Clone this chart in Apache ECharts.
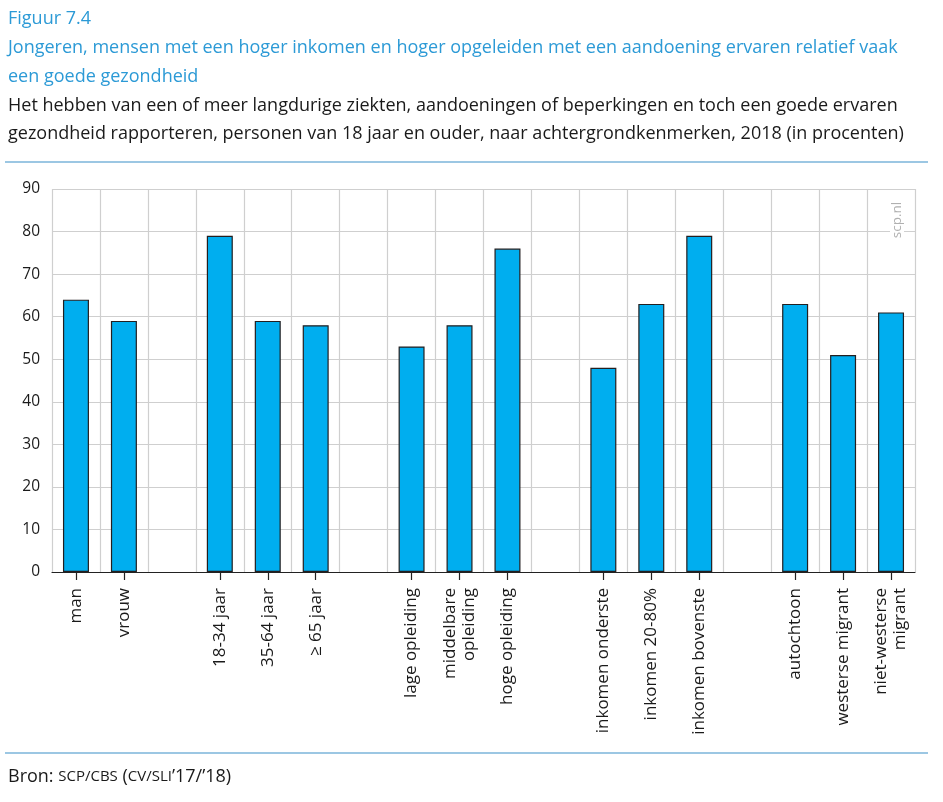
<!DOCTYPE html>
<html>
<head>
<meta charset="utf-8">
<script src="https://cdn.jsdelivr.net/npm/echarts@6/dist/echarts.min.js"></script>
<style>
  html, body { margin: 0; padding: 0; background: #fff; }
  #chart { width: 943px; height: 802px; }
</style>
</head>
<body>
<div id="chart"></div>
<script>
// Categories (blank strings are gaps between groups)
const categories = [
  'man', 'vrouw', '',
  '18-34 jaar', '35-64 jaar', '≥ 65 jaar', ' ',
  'lage opleiding', 'middelbare\nopleiding', 'hoge opleiding', '  ',
  'inkomen onderste', 'inkomen 20-80%', 'inkomen bovenste', '   ',
  'autochtoon', 'westerse migrant', 'niet-westerse\nmigrant'
];
const values = [
  64, 59, null,
  79, 59, 58, null,
  53, 58, 76, null,
  48, 63, 79, null,
  63, 51, 61
];
const yTicks = { min: 0, max: 90, interval: 10 };

const titleLines = [
  'Jongeren, mensen met een hoger inkomen en hoger opgeleiden met een aandoening ervaren relatief vaak',
  'een goede gezondheid'
];
const subtitleLines = [
  'Het hebben van een of meer langdurige ziekten, aandoeningen of beperkingen en toch een goede ervaren',
  'gezondheid rapporteren, personen van 18 jaar en ouder, naar achtergrondkenmerken, 2018 (in procenten)'
];

const FONT = '"Open Sans", "Noto Sans", sans-serif';
const BLUE = '#2C9AD6';
const RULE = '#3A8FC8';
const TXT = '#1a1a1a';

const chart = echarts.init(document.getElementById('chart'), null, { renderer: 'canvas' });

const isReal = (v) => String(v).trim() !== '';

chart.setOption({
  animation: false,
  backgroundColor: '#ffffff',
  grid: { left: 52, right: 28, top: 189, bottom: 230, containLabel: false },
  xAxis: {
    type: 'category',
    data: categories,
    boundaryGap: true,
    axisLine: { show: true, lineStyle: { color: '#222', width: 1.2 } },
    axisTick: {
      show: true, alignWithLabel: true, length: 8,
      interval: (i, v) => isReal(v),
      lineStyle: { color: '#222', width: 1.2 }
    },
    axisLabel: {
      interval: 0, rotate: 90, margin: 16,
      fontFamily: FONT, fontSize: 17, color: TXT, lineHeight: 19
    },
    splitLine: { show: true, interval: 0, lineStyle: { color: '#cfcfcf', width: 1.2 } }
  },
  yAxis: {
    type: 'value',
    min: yTicks.min, max: yTicks.max, interval: yTicks.interval,
    axisLine: { show: false },
    axisTick: { show: false },
    axisLabel: { fontFamily: FONT, fontSize: 15.5, color: TXT, margin: 12 },
    splitLine: { show: true, lineStyle: { color: '#cfcfcf', width: 1.2 } }
  },
  series: [{
    type: 'bar',
    data: values,
    barWidth: 26,
    itemStyle: { color: '#00AEEF', borderColor: '#231F20', borderWidth: 1.2 }
  }],
  graphic: [
    { type: 'text', left: 8, top: 10, style: { text: 'Figuur 7.4', font: '18px ' + FONT, fill: BLUE } },
    { type: 'text', left: 8, top: 39, style: { text: titleLines[0], font: '18px ' + FONT, fill: BLUE } },
    { type: 'text', left: 8, top: 68, style: { text: titleLines[1], font: '18px ' + FONT, fill: BLUE } },
    { type: 'text', left: 8, top: 97, style: { text: subtitleLines[0], font: '18px ' + FONT, fill: TXT } },
    { type: 'text', left: 8, top: 125, style: { text: subtitleLines[1], font: '18px ' + FONT, fill: TXT } },
    { type: 'line', shape: { x1: 5, y1: 162, x2: 928, y2: 162 }, style: { stroke: RULE, lineWidth: 1.2 } },
    { type: 'line', shape: { x1: 5, y1: 753, x2: 928, y2: 753 }, style: { stroke: RULE, lineWidth: 1.2 } },
    {
      type: 'text', left: 8, top: 768,
      style: {
        text: '{a|Bron: }{s|SCP/CBS}{a| (}{s|CV/SLI}{a|’17/’18)}',
        fill: TXT,
        rich: {
          a: { fontFamily: FONT, fontSize: 18, fill: TXT },
          s: { fontFamily: FONT, fontSize: 15, fill: TXT }
        }
      }
    },
    {
      type: 'text', x: 897, y: 220, rotation: Math.PI / 2, z: 100,
      style: {
        text: 'scp.nl', font: '13.5px ' + FONT, fill: '#b0b0b0',
        align: 'center', verticalAlign: 'middle',
        backgroundColor: '#fff', padding: [0, 4]
      }
    }
  ]
});
</script>
</body>
</html>
